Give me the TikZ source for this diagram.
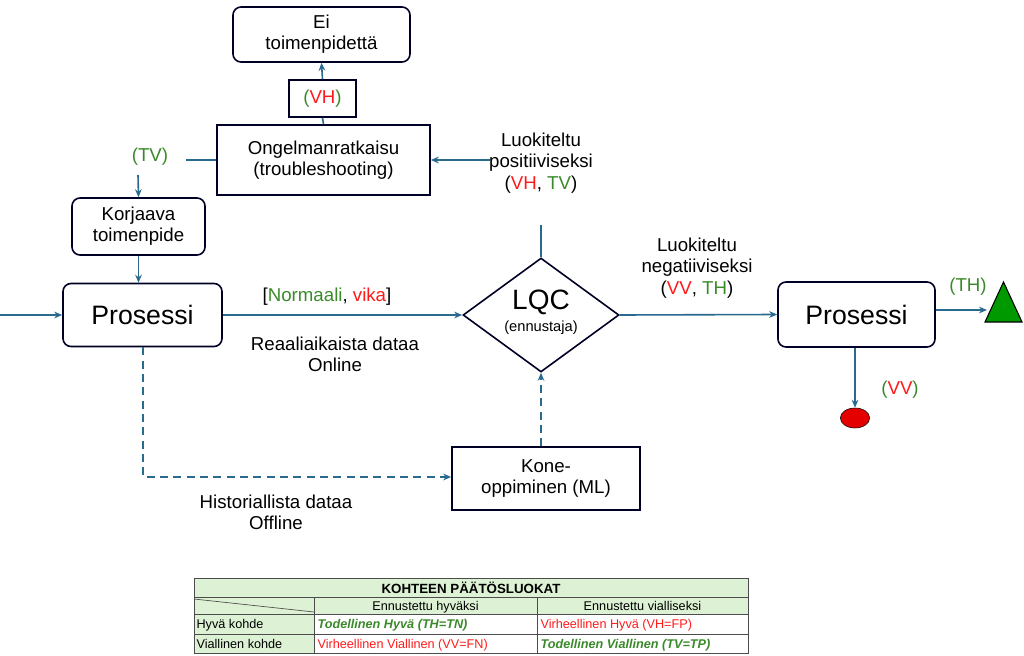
\documentclass[tikz,border=0pt]{standalone}
\usepackage{fontspec}
\setmainfont{Liberation Sans}
\usetikzlibrary{shapes.geometric,arrows.meta}
\definecolor{ln}{HTML}{2A6A8F}
\definecolor{gr}{HTML}{3A8A2A}
\definecolor{rd}{HTML}{FF1A1A}
\definecolor{tg}{HTML}{DDF2D4}
\begin{document}
\begin{tikzpicture}[x=0.75pt,y=-0.75pt,
  box/.style={draw=black!85!blue,line width=1.2pt,align=center,font=\fontsize{14}{16}\selectfont},
  rbox/.style={box,rounded corners=6pt},
  arr/.style={draw=ln,line width=1.2pt,-{Stealth[length=6pt,width=5pt]}},
  lin/.style={draw=ln,line width=1.2pt},
  lbl/.style={align=center,font=\fontsize{14}{16}\selectfont},
  cell/.style={draw=black!70,line width=0.5pt}]
\useasboundingbox (0,0) rectangle (1024,656);
\node[rbox,minimum width=177*0.75pt,minimum height=55*0.75pt] (ei) at (321.5,34.5) {Ei\\toimenpidettä};
\node[box,minimum width=67*0.75pt,minimum height=37*0.75pt] (vh) at (322.5,98.5) {\textcolor{gr}{(}\textcolor{rd}{VH}\textcolor{gr}{)}};
\node[box,minimum width=213*0.75pt,minimum height=70*0.75pt] (ong) at (323.5,160) {Ongelmanratkaisu\\(troubleshooting)};
\node[rbox,minimum width=133*0.75pt,minimum height=57*0.75pt] (kor) at (138.5,226.5) {Korjaava\\toimenpide};
\node[rbox,minimum width=159*0.75pt,minimum height=63*0.75pt,font=\fontsize{20}{22}\selectfont] (p1) at (142.5,315) {Prosessi};
\node[box,diamond,minimum width=156*0.75pt,minimum height=114*0.75pt,inner sep=0pt,aspect=1.37] (lqc) at (541,315) {};
\node[lbl,font=\fontsize{21}{22}\selectfont] (lqct) at (541,302) {LQC};
\node[lbl,font=\fontsize{11}{12}\selectfont] (lqcs) at (541,328) {(ennustaja)};
\node[rbox,minimum width=157*0.75pt,minimum height=65*0.75pt,font=\fontsize{20}{22}\selectfont] (p2) at (856.5,314.5) {Prosessi};
\node[box,minimum width=188*0.75pt,minimum height=63*0.75pt] (ml) at (546,478.5) {Kone-\\oppiminen (ML)};
\draw[black,fill=green!60!black,line width=0.8pt] (985,322) -- (1003.5,282) -- (1022,322) -- cycle;
\coordinate (tri) at (987,310);
\node[draw=black,fill=red!90!black,ellipse,minimum width=22pt,minimum height=15pt,inner sep=0pt] (el) at (855,418) {};
% labels
\node[lbl] (pos) at (541,163) {Luokiteltu\\positiiviseksi\\(\textcolor{rd}{VH}, \textcolor{gr}{TV})};
\node[lbl] (neg) at (697,268) {Luokiteltu\\negatiiviseksi\\(\textcolor{rd}{VV}, \textcolor{gr}{TH})};
\node[lbl,text=gr] (tv) at (150,157) {(TV)};
\node[lbl,text=gr] (th) at (968,287) {(TH)};
\node[lbl] (vv) at (900,390) {\textcolor{gr}{(}\textcolor{rd}{VV}\textcolor{gr}{)}};
\node[lbl] (nv) at (327,297) {[\textcolor{gr}{Normaali}, \textcolor{rd}{vika}]};
\node[lbl] (rt) at (335,354) {Reaaliaikaista dataa\\Online};
\node[lbl] (hd) at (276,512) {Historiallista dataa\\Offline};
\coordinate (in) at (0,315);
\coordinate (tvs) at (138,175);
\coordinate (tve) at (186,160);
\coordinate (pose) at (490,160);
\coordinate (post) at (541,225);
\coordinate (dc) at (143,477);
% connectors
\draw[arr] (in) -- (p1.west);
\draw[arr] (p1.east) -- (lqc.west);
\draw[arr] (lqc.east) -- (p2.west);
\draw[arr] (p2.east |- tri) -- (tri);
\draw[arr] (p2.south -| el) -- (el.north);
\draw[lin] (lqc.north) -- (post);
\draw[arr] (pose) -- (ong.east);
\draw[lin] (ong.west) -- (tve);
\draw[arr] (tvs) -- (kor.north);
\draw[arr] (kor.south) -- (kor.south |- p1.north);
\draw[lin] (ong.north) -- (vh.south);
\draw[arr] (vh.north) -- (ei.south);
\draw[arr,dashed,dash pattern=on 6pt off 4pt] (p1.south -| dc) -- (dc) -- (ml.west |- dc);
\draw[arr,dashed,dash pattern=on 6pt off 4pt] (ml.north -| lqc) -- (lqc.south);
% table
\begin{scope}[font=\fontsize{9.5}{10}\selectfont]
\fill[tg] (194,578) rectangle (748,614);
\fill[tg] (194,614) rectangle (314,653);
\draw[cell] (194,578) rectangle (748,653);
\draw[cell] (194,597) -- (748,597) (194,614) -- (748,614) (194,634) -- (748,634);
\draw[cell] (314,597) -- (314,653) (537,597) -- (537,653);
\draw[cell] (194,599) -- (314,612);
\node[font=\fontsize{10}{10}\selectfont\bfseries] (t0) at (471,587.5) {KOHTEEN PÄÄTÖSLUOKAT};
\node[anchor=base] (h1) at (425.5,610) {Ennustettu hyväksi};
\node[anchor=base] (h2) at (642.5,610) {Ennustettu vialliseksi};
\node[anchor=base west,inner sep=1pt] (r1) at (195,628.5) {Hyvä kohde};
\node[anchor=base west,inner sep=1pt] (r2) at (195,648) {Viallinen kohde};
\node[anchor=base west,inner sep=1pt,text=gr,font=\fontsize{9.5}{10}\selectfont\bfseries\itshape] (c11) at (316,628.5) {Todellinen Hyvä (TH=TN)};
\node[anchor=base west,inner sep=1pt,text=rd] (c12) at (539,628.5) {Virheellinen Hyvä (VH=FP)};
\node[anchor=base west,inner sep=1pt,text=rd] (c21) at (316,648) {Virheellinen Viallinen (VV=FN)};
\node[anchor=base west,inner sep=1pt,text=gr,font=\fontsize{9.5}{10}\selectfont\bfseries\itshape] (c22) at (539,648) {Todellinen Viallinen (TV=TP)};
\end{scope}
\end{tikzpicture}
\end{document}
